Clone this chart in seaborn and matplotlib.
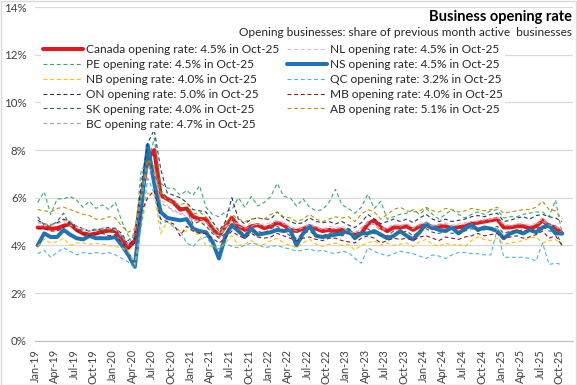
import numpy as np
import pandas as pd
import matplotlib.pyplot as plt
import seaborn as sns
from matplotlib.patches import Rectangle
from matplotlib.ticker import FuncFormatter

# monthly series, Jan-19 .. Oct-25 (opening rate, %)
months = pd.date_range('2019-01-01', '2025-10-01', freq='MS')
month_labels = list(months.strftime('%b-%y'))

canada = [4.75, 4.75, 4.7, 4.72, 4.82, 4.9, 4.65, 4.5, 4.45, 4.5, 4.58, 4.62,
          4.6, 4.3, 3.9, 4.2, 6.0, 7.6, 8.0, 6.1, 5.95, 5.8, 5.5, 5.55,
          5.2, 5.1, 5.1, 4.7, 4.4, 4.8, 5.15, 4.8, 4.65, 4.8, 4.85, 4.72,
          4.8, 4.95, 4.85, 4.65, 4.6, 4.7, 4.8, 4.7, 4.6, 4.65, 4.6, 4.65,
          4.55, 4.45, 4.5, 4.9, 5.05, 4.75, 4.6, 4.75, 4.75, 4.8, 4.65, 4.8,
          4.85, 4.72, 4.8, 4.8, 4.72, 4.76, 4.8, 4.9, 4.95, 5.0, 5.05, 5.1,
          4.75, 4.75, 4.8, 4.8, 4.72, 4.8, 5.05, 4.8, 4.75, 4.5]
nl = [4.85, 4.8, 4.9, 4.95, 5.0, 4.85, 4.75, 4.6, 4.55, 4.6, 4.75, 4.7,
      4.65, 4.35, 4.1, 4.4, 5.6, 6.9, 7.2, 5.9, 5.7, 5.4, 5.35, 5.2,
      5.05, 5.0, 4.9, 4.5, 4.4, 4.8, 5.0, 4.9, 4.8, 4.95, 4.85, 4.9,
      4.95, 5.05, 4.95, 4.8, 4.7, 4.8, 4.9, 4.8, 4.7, 4.8, 4.75, 4.8,
      4.7, 4.55, 4.75, 4.95, 4.9, 4.7, 4.75, 4.9, 4.85, 4.9, 4.75, 4.9,
      5.0, 4.85, 4.9, 4.95, 4.85, 4.9, 4.95, 5.0, 5.05, 5.1, 5.1, 5.2,
      4.9, 4.85, 4.9, 4.95, 4.85, 4.95, 5.1, 4.9, 4.85, 4.5]
pe = [5.8, 6.25, 5.3, 5.95, 5.95, 6.05, 5.9, 5.6, 5.85, 5.55, 5.7, 5.5,
      5.8, 5.0, 4.4, 4.3, 7.2, 7.4, 8.5, 6.6, 6.4, 6.4, 6.1, 6.3,
      6.1, 6.5, 5.6, 5.3, 5.2, 5.4, 5.5, 6.0, 5.6, 6.05, 5.65, 5.8,
      6.05, 6.6, 6.05, 6.0, 5.65, 5.95, 5.6, 5.45, 5.5, 5.8, 6.35, 5.7,
      5.55, 5.35, 5.6, 6.15, 5.55, 5.85, 5.1, 5.2, 5.3, 5.35, 5.5, 5.3,
      5.55, 5.3, 5.1, 5.3, 5.5, 5.3, 5.15, 5.3, 5.4, 5.3, 5.45, 5.5,
      5.15, 5.2, 5.2, 5.3, 5.35, 5.4, 5.4, 5.2, 5.9, 4.5]
ns = [4.0, 4.5, 4.35, 4.35, 4.65, 4.45, 4.3, 4.25, 4.4, 4.3, 4.3, 4.3,
      4.35, 4.0, 3.6, 3.1, 5.6, 8.2, 6.6, 5.4, 5.15, 5.1, 5.05, 5.1,
      4.7, 4.6, 4.55, 4.15, 3.45, 4.4, 4.85, 4.6, 4.35, 4.7, 4.45, 4.5,
      4.55, 4.65, 4.6, 4.65, 4.0, 4.5, 4.8, 4.4, 4.35, 4.4, 4.45, 4.5,
      4.65, 4.3, 4.5, 4.5, 4.6, 4.45, 4.3, 4.4, 4.6, 4.4, 4.25, 4.55,
      4.9, 4.75, 4.65, 4.6, 4.75, 4.5, 4.7, 4.85, 4.65, 4.75, 4.7, 4.6,
      4.3, 4.5, 4.6, 4.5, 4.65, 4.55, 4.75, 4.85, 4.5, 4.5]
nb = [3.95, 4.25, 4.1, 4.15, 4.3, 4.0, 4.1, 4.1, 4.05, 4.1, 4.05, 4.0,
      3.95, 3.9, 3.75, 3.2, 4.8, 6.2, 6.1, 4.5, 5.0, 4.75, 4.6, 4.6,
      4.65, 4.4, 4.0, 3.95, 3.85, 4.1, 4.4, 4.0, 4.05, 4.2, 4.0, 4.05,
      4.2, 4.3, 4.1, 4.0, 3.9, 4.1, 4.25, 4.05, 3.95, 4.05, 4.1, 4.0,
      4.05, 3.8, 4.0, 4.1, 4.2, 4.0, 4.1, 4.0, 4.05, 4.1, 3.95, 4.15,
      4.25, 4.05, 3.95, 4.1, 4.0, 4.05, 3.95, 4.2, 4.35, 4.25, 4.2, 4.3,
      4.05, 4.1, 4.15, 4.2, 4.3, 4.35, 4.1, 4.2, 4.25, 4.0]
qc = [3.65, 3.8, 3.5, 3.7, 3.9, 3.75, 3.6, 3.7, 3.65, 3.7, 3.65, 3.7,
      3.6, 3.45, 3.3, 3.05, 4.8, 6.8, 6.2, 4.9, 5.0, 4.8, 4.6, 4.1,
      3.95, 4.25, 4.35, 4.0, 3.85, 4.1, 3.95, 3.9, 4.0, 4.1, 4.05, 3.9,
      3.95, 4.0, 3.9, 3.85, 3.75, 3.8, 3.85, 3.75, 3.8, 3.7, 3.65, 3.75,
      3.7, 3.45, 3.25, 3.9, 3.75, 3.65, 3.55, 3.65, 3.75, 3.7, 3.65, 3.55,
      3.45, 3.6, 3.55, 3.45, 3.6, 3.7, 3.7, 3.65, 3.65, 3.6, 3.6, 4.7,
      3.5, 3.5, 3.5, 3.5, 3.45, 3.35, 4.1, 3.2, 3.25, 3.2]
on = [5.05, 4.9, 4.85, 4.95, 5.1, 5.0, 4.8, 4.7, 4.6, 4.65, 4.7, 4.75,
      4.7, 4.5, 4.0, 4.3, 6.6, 8.3, 8.85, 7.2, 6.2, 6.1, 6.0, 5.8,
      5.5, 5.45, 5.4, 5.0, 4.6, 5.0, 6.0, 5.1, 4.9, 5.1, 5.15, 5.1,
      5.1, 5.4, 5.15, 5.0, 4.9, 4.95, 5.15, 5.0, 4.95, 5.0, 4.9, 5.0,
      4.85, 4.75, 4.95, 5.3, 5.1, 4.9, 5.0, 5.1, 5.0, 5.1, 4.95, 5.15,
      5.3, 5.1, 5.0, 5.1, 5.0, 5.05, 5.1, 5.2, 5.25, 5.2, 5.3, 5.35,
      5.0, 5.05, 5.15, 5.2, 5.1, 5.25, 5.3, 5.2, 5.15, 5.0]
mb = [4.7, 4.7, 4.6, 4.6, 4.75, 5.0, 4.6, 4.45, 4.4, 4.45, 4.5, 4.4,
      4.45, 4.1, 3.85, 4.1, 5.4, 6.0, 6.3, 5.1, 5.0, 4.9, 4.4, 4.8,
      4.6, 4.5, 4.5, 4.3, 4.1, 4.3, 4.6, 4.4, 4.3, 4.5, 4.35, 4.3,
      4.35, 4.5, 4.4, 4.3, 4.2, 4.3, 4.35, 4.25, 4.2, 4.3, 4.3, 4.2,
      4.15, 4.1, 4.3, 4.4, 4.3, 4.1, 4.2, 4.3, 4.25, 4.3, 4.2, 4.35,
      4.4, 4.3, 4.2, 4.35, 4.3, 4.25, 4.35, 4.4, 4.5, 4.4, 4.45, 4.5,
      4.3, 4.35, 4.4, 4.3, 4.35, 4.45, 4.6, 4.3, 4.4, 4.0]
sk = [5.2, 4.85, 4.8, 5.0, 5.35, 4.8, 4.65, 4.65, 4.6, 4.7, 4.6, 4.55,
      4.6, 4.3, 4.2, 4.5, 6.2, 7.8, 7.0, 6.3, 6.0, 5.7, 5.6, 5.5,
      4.9, 5.0, 4.8, 4.5, 4.3, 4.5, 4.9, 4.6, 4.5, 4.55, 4.6, 4.5,
      4.7, 4.8, 4.6, 4.4, 4.3, 4.5, 4.6, 4.4, 4.4, 4.5, 4.6, 4.4,
      4.5, 4.25, 4.5, 4.7, 4.5, 4.4, 4.4, 4.6, 4.5, 4.6, 4.4, 4.6,
      4.7, 4.55, 4.5, 4.6, 4.5, 4.55, 4.6, 4.7, 4.6, 4.65, 4.7, 4.8,
      4.5, 4.6, 4.6, 4.65, 4.55, 4.7, 4.8, 4.6, 4.6, 4.0]
ab = [5.5, 5.45, 5.4, 5.55, 5.6, 5.5, 5.4, 5.3, 5.25, 5.1, 5.1, 5.2,
      5.15, 4.8, 4.55, 4.7, 6.3, 7.6, 7.3, 6.2, 5.9, 5.8, 5.7, 5.8,
      5.3, 5.4, 5.2, 4.8, 4.5, 4.9, 5.3, 5.1, 5.0, 5.1, 5.15, 5.1,
      5.3, 5.4, 5.2, 5.15, 5.0, 5.1, 5.3, 5.1, 5.0, 5.1, 5.2, 5.15,
      5.2, 5.0, 5.3, 5.5, 5.4, 5.1, 5.3, 5.5, 5.6, 5.45, 5.4, 5.45,
      5.6, 5.45, 5.4, 5.55, 5.5, 5.4, 5.45, 5.55, 5.5, 5.45, 5.5, 5.6,
      5.35, 5.4, 5.45, 5.5, 5.5, 5.6, 5.85, 5.5, 5.45, 5.1]
bc = [4.95, 4.9, 4.85, 4.9, 5.05, 5.0, 4.8, 4.7, 4.6, 4.65, 4.7, 4.7,
      4.75, 4.4, 4.0, 4.6, 6.0, 7.3, 7.0, 5.8, 5.6, 5.5, 5.3, 5.4,
      5.0, 5.1, 5.0, 4.6, 4.3, 4.7, 5.1, 4.8, 4.7, 4.8, 4.9, 4.8,
      4.85, 5.0, 4.9, 4.7, 4.6, 4.75, 4.85, 4.75, 4.65, 4.7, 4.7, 4.75,
      4.6, 4.5, 4.7, 5.0, 4.85, 4.6, 4.7, 4.85, 4.8, 4.9, 4.7, 4.85,
      4.95, 4.8, 4.85, 4.9, 4.8, 4.85, 4.9, 5.0, 5.0, 5.05, 5.1, 5.15,
      4.85, 4.8, 4.9, 4.9, 4.8, 4.9, 5.0, 4.85, 4.8, 4.7]

series_names = ['Canada', 'NL', 'PE', 'NS', 'NB', 'QC', 'ON', 'MB', 'SK', 'AB', 'BC']
series_values = [canada, nl, pe, ns, nb, qc, on, mb, sk, ab, bc]
series_colors = ['#E8161C', '#F4B8C4', '#3BAA68', '#1F74B8', '#FFC000', '#4DB4D6',
                 '#1F3864', '#8B1A1A', '#2F6B45', '#BF9000', '#A6A6A6']

sns.set_style('white')
plt.rcParams['font.family'] = ['Lato', 'DejaVu Sans']

fig = plt.figure(figsize=(5.77, 3.85), dpi=100)
fig.patches.append(Rectangle((0.001, 0.001), 0.997, 0.997, transform=fig.transFigure,
                             fill=False, edgecolor='#D9D9D9', lw=1))
ax = fig.add_axes([35 / 577, 1 - 340.7 / 385, 538 / 577, 333.7 / 385])

x = np.arange(len(months))
handles = {}
for name, vals, col in zip(series_names, series_values, series_colors):
    label = f'{name} opening rate: {vals[-1]:.1f}% in Oct-25'
    if name in ('Canada', 'NS'):
        sns.lineplot(x=x, y=vals, ax=ax, color=col, lw=2.9, label=label)
    else:
        sns.lineplot(x=x, y=vals, ax=ax, color=col, lw=0.8, label=label,
                     dashes=False, linestyle=(0, (3.5, 2.5)))
    handles[name] = ax.get_lines()[-1]

ax.set_ylim(0, 14)
ax.set_yticks(np.arange(0, 15, 2))
ax.yaxis.set_major_formatter(FuncFormatter(lambda v, p: f'{v:.0f}%'))
ax.set_xlim(-0.42, 82.7)
ax.set_xticks(x[::3] - 0.4)
ax.set_xticklabels(month_labels[::3], rotation=90)
ax.tick_params(axis='x', labelsize=7.8, colors='#404040', length=4, width=0.8,
               color='#BFBFBF', pad=2)
ax.tick_params(axis='y', labelsize=8.3, colors='#404040', length=0, pad=6)
ax.grid(axis='y', color='#D9D9D9', lw=0.9)
ax.set_axisbelow(True)
for s in ['top', 'right', 'left']:
    ax.spines[s].set_visible(False)
ax.spines['bottom'].set_color('#BFBFBF')
ax.set_xlabel('')
ax.set_ylabel('')
ax.get_legend().remove()

# Excel fills legend row-wise; matplotlib fills column-wise
order = ['Canada', 'PE', 'NB', 'ON', 'SK', 'BC', 'NL', 'NS', 'QC', 'MB', 'AB']
leg = fig.legend([handles[n] for n in order], [handles[n].get_label() for n in order],
                 ncol=2, loc='upper left', bbox_to_anchor=(41 / 577, 1 - 42 / 385),
                 fontsize=8.6, frameon=True, facecolor='white', edgecolor='none',
                 framealpha=1, handlelength=3.3, handletextpad=0.25,
                 columnspacing=0.7, labelspacing=0.32, borderpad=0.2,
                 borderaxespad=0)
for t in leg.get_texts():
    t.set_color('#262626')

fig.text(572 / 577, 1 - 17 / 385, 'Business opening rate', ha='right', va='center',
         fontsize=10.5, fontweight='bold', color='black')
fig.text(572 / 577, 1 - 33 / 385,
         'Opening businesses: share of previous month active  businesses',
         ha='right', va='center', fontsize=8.6, color='#262626')

fig.savefig('out.png', dpi=100)
